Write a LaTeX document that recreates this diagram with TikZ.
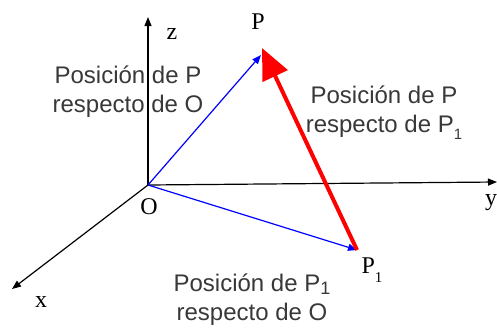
\documentclass[tikz,border=0pt]{standalone}
\usepackage{fontspec}
\setmainfont{Liberation Serif}
\newfontfamily\labfont{Liberation Sans}
\usetikzlibrary{arrows.meta}
\definecolor{labgray}{HTML}{383838}
\tikzset{
  axis/.style={line width=1.2pt, black, -{Triangle[length=9pt,width=7pt]}},
  bluevec/.style={line width=1.2pt, blue, -{Triangle[length=9pt,width=7pt]}},
  redvec/.style={line width=4pt, red, -{Triangle[length=31pt,width=27pt]}},
  axlab/.style={font=\fontsize{24}{24}\selectfont, text=black, inner sep=0pt},
  desc/.style={font=\labfont\fontsize{24}{29}\selectfont, text=labgray, align=center, inner sep=0pt}
}
\begin{document}
\begin{tikzpicture}[x=1pt,y=-1pt]
\useasboundingbox (0,0) rectangle (497,327);
\coordinate (O) at (148,185);
\coordinate (zt) at (148,17);
\coordinate (yt) at (497,182);
\coordinate (xt) at (12,289);
\coordinate (P) at (261,55);
\coordinate (Pr) at (262,48);
\coordinate (P1) at (357,250);
\draw[axis] (O) -- (zt);
\draw[axis] (O) -- (yt);
\draw[axis] (O) -- (xt);
\draw[bluevec] (O) -- (P);
\draw[bluevec] (O) -- (P1);
\draw[redvec] (P1) -- (Pr);
\node[axlab] (zl) at (172,34) {z};
\node[axlab] (yl) at (491,203) {y};
\node[axlab] (xl) at (41,302) {x};
\node[axlab] (Ol) at (149,207) {O};
\node[axlab] (Pl) at (258,22) {P};
\node[axlab] (P1l) at (372,270) {P\raisebox{-0.35em}{\fontsize{15}{15}\selectfont 1}};
\node[desc] (d1) at (128,92) {Posición de P\\respecto de O};
\node[desc] (d2) at (384,113) {Posición de P\\respecto de P\raisebox{-0.3em}{\fontsize{15}{15}\selectfont 1}};
\node[desc] (d3) at (252,300) {Posición de P\raisebox{-0.12em}{\fontsize{18}{18}\selectfont 1}\\respecto de O};
\end{tikzpicture}
\end{document}
